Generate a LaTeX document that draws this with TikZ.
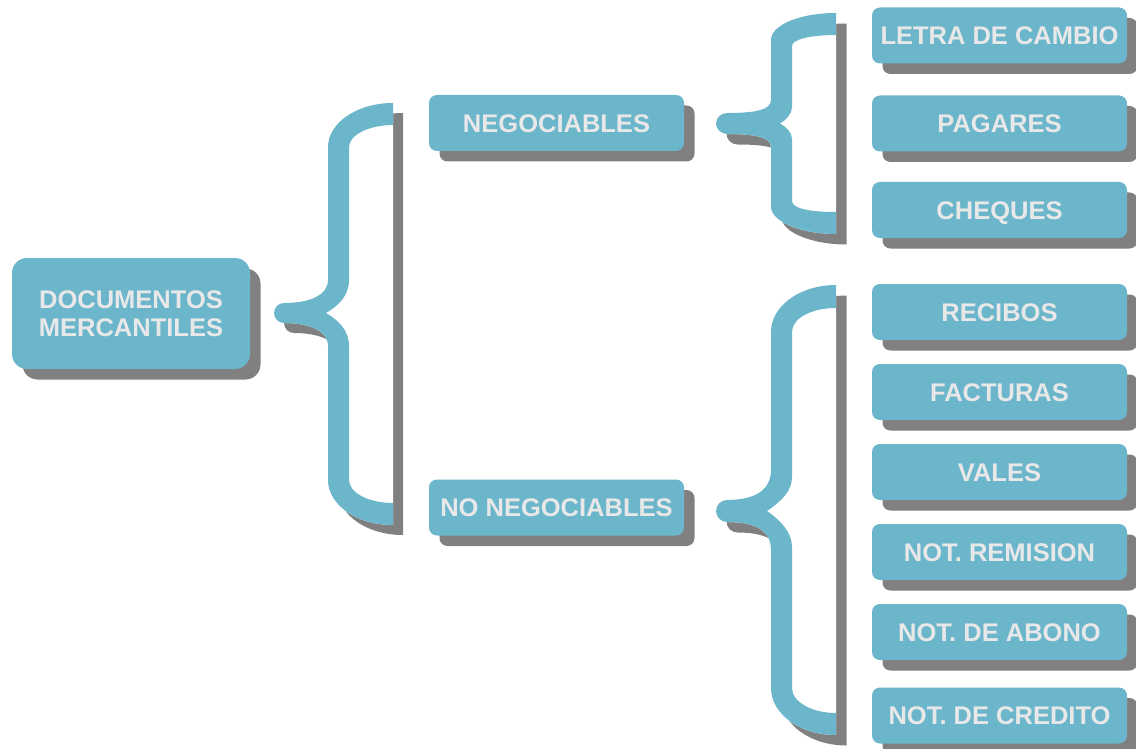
\documentclass[tikz,border=0pt]{standalone}
\usepackage{fontspec}
\setmainfont{Liberation Sans}
\usetikzlibrary{shadows}
\definecolor{boxblue}{HTML}{6CB6CC}
\definecolor{shgray}{HTML}{808080}
\definecolor{txtgray}{HTML}{E8E8E8}
\tikzset{
  box/.style={fill=boxblue, rounded corners=8pt, minimum width=255pt, minimum height=56pt,
    text=txtgray, font=\bfseries\fontsize{25.5}{28}\selectfont, inner sep=0pt, align=center,
    text height=18.3pt, text depth=0pt,
    drop shadow={shadow xshift=10.5pt, shadow yshift=-10.5pt, fill=shgray, opacity=1}},
  bigbox/.style={box, minimum width=238pt, minimum height=111pt, rounded corners=15pt,
    text height=, text depth=},
}
% big left brace
\newcommand\BigOuter[1]{\fill[#1] (393,103) .. controls (357,103) and (328,123) .. (328,147) -- (328,280)
  .. controls (328,295) and (310,303) .. (284,303) .. controls (278.5,303) and (274,307.5) .. (274,313)
  .. controls (274,318.5) and (278.5,323) .. (284,323) .. controls (310,323) and (328,331) .. (328,346)
  -- (328,480) .. controls (328,505) and (357,525) .. (393,525) -- cycle;}
\newcommand\BigRibbon[1]{\fill[#1] (393,103) .. controls (357,103) and (328,123) .. (328,147) -- (328,280)
  .. controls (328,295) and (310,303) .. (284,303) .. controls (278.5,303) and (274,307.5) .. (274,313)
  .. controls (274,318.5) and (278.5,323) .. (284,323) .. controls (310,323) and (328,331) .. (328,346)
  -- (328,480) .. controls (328,505) and (357,525) .. (393,525)
  -- (393,503) .. controls (369,503) and (349,493) .. (349,480) -- (349,346)
  .. controls (349,330) and (338,320) .. (326,313) .. controls (338,306) and (349,296) .. (349,280)
  -- (349,147) .. controls (349,135) and (369,125) .. (393,125) -- cycle;}
% upper right brace
\newcommand\UpOuter[1]{\fill[#1] (836,13) .. controls (800,13) and (771,25) .. (771,40)
  -- (771,100) .. controls (771,110) and (755,113) .. (727,113)
  .. controls (721,113) and (716,118) .. (716,123.5) .. controls (716,129) and (721,134) .. (727,134)
  .. controls (755,134) and (771,137) .. (771,147)
  -- (771,207) .. controls (771,221) and (800,234) .. (836,234) -- cycle;}
\newcommand\UpRibbon[1]{\fill[#1] (836,13) .. controls (800,13) and (771,25) .. (771,40)
  -- (771,100) .. controls (771,110) and (755,113) .. (727,113)
  .. controls (721,113) and (716,118) .. (716,123.5) .. controls (716,129) and (721,134) .. (727,134)
  .. controls (755,134) and (771,137) .. (771,147)
  -- (771,207) .. controls (771,221) and (800,234) .. (836,234)
  -- (836,212) .. controls (812,212) and (792,209) .. (792,201)
  -- (792,139) .. controls (792,132) and (786,127) .. (780,123.5)
  .. controls (786,120) and (792,114) .. (792,107)
  -- (792,46) .. controls (792,39) and (812,35) .. (836,35) -- cycle;}
% lower right brace
\newcommand\LowOuter[1]{\fill[#1] (836,285) .. controls (800,285) and (771,306) .. (771,332)
  -- (771,470) .. controls (771,490) and (755,500) .. (727,500)
  .. controls (721,500) and (716,505) .. (716,511) .. controls (716,517) and (721,522) .. (727,522)
  .. controls (755,522) and (771,530) .. (771,550)
  -- (771,688) .. controls (771,714) and (800,735) .. (836,735) -- cycle;}
\newcommand\LowRibbon[1]{\fill[#1] (836,285) .. controls (800,285) and (771,306) .. (771,332)
  -- (771,470) .. controls (771,490) and (755,500) .. (727,500)
  .. controls (721,500) and (716,505) .. (716,511) .. controls (716,517) and (721,522) .. (727,522)
  .. controls (755,522) and (771,530) .. (771,550)
  -- (771,688) .. controls (771,714) and (800,735) .. (836,735)
  -- (836,713) .. controls (812,713) and (792,702) .. (792,688)
  -- (792,547) .. controls (792,532) and (780,520) .. (767,511)
  .. controls (780,502) and (792,492) .. (792,477)
  -- (792,332) .. controls (792,318) and (812,308) .. (836,308) -- cycle;}
\begin{document}
\begin{tikzpicture}[x=1pt,y=-1pt]
\useasboundingbox[fill=white] (0,0) rectangle (1136,749);
% brace shadows
\BigOuter{shgray, shift={(10,10)}}
\UpOuter{shgray, shift={(10.5,10.5)}}
\LowOuter{shgray, shift={(10.5,10.5)}}
% brace interiors
\BigOuter{white}
\UpOuter{white}
\LowOuter{white}
% brace ribbons
\BigRibbon{boxblue}
\UpRibbon{boxblue}
\LowRibbon{boxblue}
% boxes
\node[bigbox] (doc) at (131,313.5) {DOCUMENTOS\\MERCANTILES};
\node[box] (neg) at (556.5,123) {NEGOCIABLES};
\node[box] (noneg) at (556.5,507.5) {NO NEGOCIABLES};
\node[box] (letra) at (999.5,35.5) {LETRA DE CAMBIO};
\node[box] (pagares) at (999.5,123.5) {PAGARES};
\node[box] (cheques) at (999.5,210) {CHEQUES};
\node[box] (recibos) at (999.5,312) {RECIBOS};
\node[box] (facturas) at (999.5,392) {FACTURAS};
\node[box] (vales) at (999.5,472) {VALES};
\node[box] (remision) at (999.5,552) {NOT. REMISION};
\node[box] (abono) at (999.5,632) {NOT. DE ABONO};
\node[box] (credito) at (999.5,715.5) {NOT. DE CREDITO};
\end{tikzpicture}
\end{document}
